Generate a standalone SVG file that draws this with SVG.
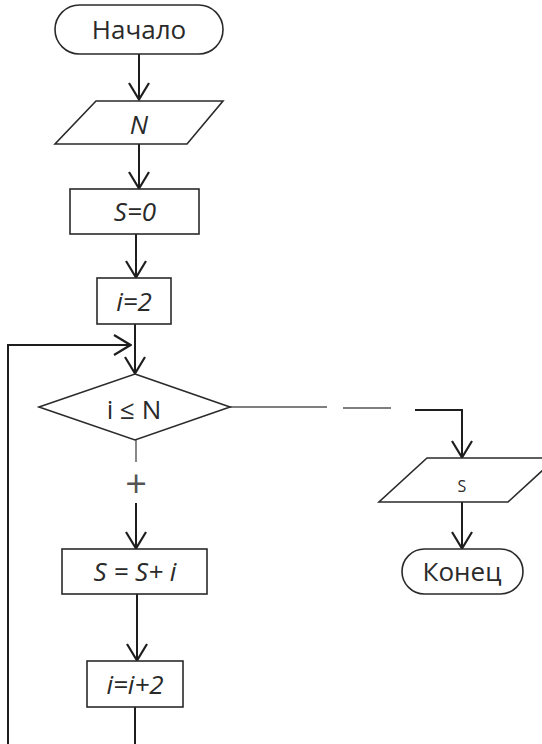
<svg xmlns="http://www.w3.org/2000/svg" width="542" height="744" viewBox="0 0 542 744">
<style>
.sh{fill:#fff;stroke:#2a2a2a;stroke-width:1.6}
.ln{fill:none;stroke:#1e1e1e;stroke-width:2}
.lt{fill:none;stroke:#555;stroke-width:1.4}
.t{font-family:"Open Sans","Noto Sans",sans-serif;font-size:26px;fill:#2a2a2a;text-anchor:middle}
.i{font-style:italic}
</style>
<defs>
<marker id="ah" viewBox="0 0 20 24" refX="19" refY="12" markerWidth="20" markerHeight="24" markerUnits="userSpaceOnUse" orient="auto">
<path d="M2 2 L18.5 12 L2 22" fill="none" stroke="#1e1e1e" stroke-width="2.2"/>
</marker>
</defs>
<rect width="542" height="744" fill="#fff"/>
<g id="connectors">
<line class="ln" x1="139" y1="54" x2="139" y2="100" marker-end="url(#ah)"/>
<line class="ln" x1="139" y1="144" x2="139" y2="189" marker-end="url(#ah)"/>
<line class="ln" x1="136" y1="234" x2="136" y2="278" marker-end="url(#ah)"/>
<line class="ln" x1="135" y1="324" x2="135" y2="374" marker-end="url(#ah)"/>
<polyline class="ln" points="8,744 8,345 131,345" marker-end="url(#ah)"/>
<line class="lt" x1="136" y1="440" x2="136" y2="462"/>
<line class="ln" x1="136" y1="503" x2="136" y2="549" marker-end="url(#ah)"/>
<line class="ln" x1="137" y1="594" x2="137" y2="661" marker-end="url(#ah)"/>
<line class="ln" x1="135" y1="707" x2="135" y2="744"/>
<line class="lt" x1="230" y1="407" x2="327" y2="407"/>
<line class="lt" x1="343" y1="408" x2="391" y2="408"/>
<polyline class="ln" points="415,410 462,410 462,458" marker-end="url(#ah)"/>
<line class="ln" x1="462" y1="502" x2="462" y2="549" marker-end="url(#ah)"/>
<text class="t" x="136" y="497" style="font-size:38px;fill:#555">+</text>
</g>
<g id="start">
<rect class="sh" x="55" y="5" width="168" height="49" rx="24.5"/>
<text class="t" x="139" y="39">Начало</text>
</g>
<g id="inputN">
<polygon class="sh" points="96,101 223,101 187,144 55,144"/>
<text class="t i" x="139" y="134">N</text>
</g>
<g id="s0">
<rect class="sh" x="70" y="189" width="129" height="45"/>
<text class="t i" x="135" y="221">S=0</text>
</g>
<g id="i2">
<rect class="sh" x="97" y="278" width="74" height="46"/>
<text class="t i" x="134" y="311">i=2</text>
</g>
<g id="cond">
<polygon class="sh" points="135,374 230,407 135,440 39,407"/>
<text class="t" x="134" y="419">i ≤ N</text>
</g>
<g id="sum">
<rect class="sh" x="62" y="549" width="145" height="45"/>
<text class="t i" x="135" y="581">S = S+ i</text>
</g>
<g id="inc">
<rect class="sh" x="87" y="661" width="96" height="46"/>
<text class="t i" x="135" y="694">i=i+2</text>
</g>
<g id="outS">
<polygon class="sh" points="427,458 556,458 508,502 379,502"/>
<text class="t" x="462" y="492" style="font-size:16px">S</text>
</g>
<g id="end">
<rect class="sh" x="402" y="549" width="121" height="45" rx="22.5"/>
<text class="t" x="462" y="581">Конец</text>
</g>
</svg>
